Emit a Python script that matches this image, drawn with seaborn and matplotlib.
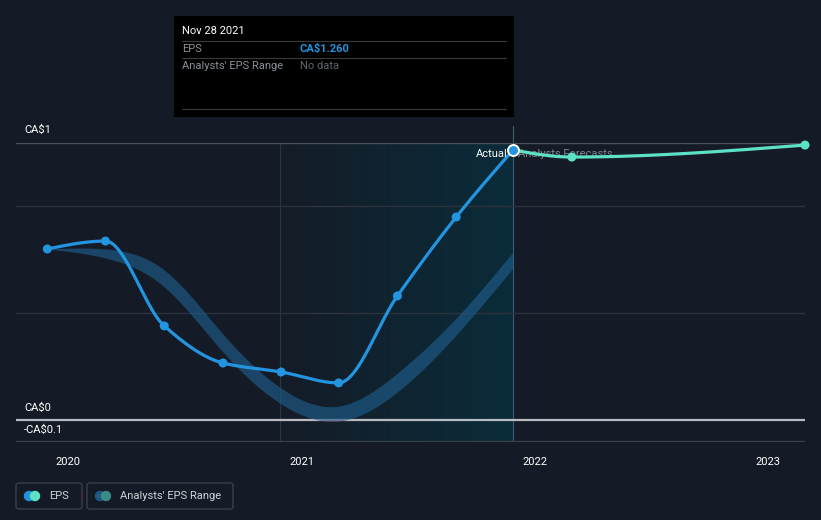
import numpy as np
import pandas as pd
import matplotlib
matplotlib.use("Agg")
import matplotlib.pyplot as plt
import matplotlib.dates as mdates
from matplotlib.patches import FancyBboxPatch, Rectangle, Ellipse
import seaborn as sns

# ---------------- data ----------------
eps_dates = ["2019-11-30", "2020-02-29", "2020-05-31", "2020-08-31", "2020-11-30",
             "2021-02-28", "2021-05-31", "2021-08-31", "2021-11-28"]
eps_values = [0.798, 0.835, 0.439, 0.266, 0.224, 0.173, 0.579, 0.947, 1.260]

fc_dates = ["2021-11-28", "2022-02-28", "2023-02-28"]
fc_values = [1.260, 1.227, 1.283]

range_dates = eps_dates
range_upper = [0.798, 0.798, 0.700, 0.401, 0.149, 0.065, 0.219, 0.476, 0.784]
range_lower = [0.798, 0.756, 0.621, 0.317, 0.075, -0.005, 0.131, 0.397, 0.709]

x_ticks = ["2020-01-01", "2021-01-01", "2022-01-01", "2023-01-01"]
x_tick_labels = ["2020", "2021", "2022", "2023"]
grid_values = [0.5, 1.0]

# ---------------- curve helpers (rendering only) ----------------
def monotone(x, y, n=400):
    x = np.asarray(x, float); y = np.asarray(y, float)
    h = np.diff(x); d = np.diff(y) / h
    m = np.zeros_like(y)
    for i in range(1, len(y) - 1):
        if d[i - 1] * d[i] <= 0:
            m[i] = 0
        else:
            w1 = 2 * h[i] + h[i - 1]; w2 = h[i] + 2 * h[i - 1]
            m[i] = (w1 + w2) / (w1 / d[i - 1] + w2 / d[i])
    if len(y) > 2:
        m[0] = (3 * d[0] - m[1]) / 2
        m[-1] = (3 * d[-1] - m[-2]) / 2
    else:
        m[0] = m[-1] = d[0]
    xs = np.linspace(x[0], x[-1], n)
    idx = np.clip(np.searchsorted(x, xs) - 1, 0, len(x) - 2)
    t = (xs - x[idx]) / h[idx]
    h00 = 2 * t**3 - 3 * t**2 + 1; h10 = t**3 - 2 * t**2 + t
    h01 = -2 * t**3 + 3 * t**2; h11 = t**3 - t**2
    ys = h00 * y[idx] + h10 * h[idx] * m[idx] + h01 * y[idx + 1] + h11 * h[idx] * m[idx + 1]
    return xs, ys


def natural(x, y, n=400):
    x = np.asarray(x, float); y = np.asarray(y, float)
    k = len(x); h = np.diff(x)
    A = np.zeros((k, k)); b = np.zeros(k)
    A[0, 0] = A[-1, -1] = 1
    for i in range(1, k - 1):
        A[i, i - 1] = h[i - 1]; A[i, i] = 2 * (h[i - 1] + h[i]); A[i, i + 1] = h[i]
        b[i] = 3 * ((y[i + 1] - y[i]) / h[i] - (y[i] - y[i - 1]) / h[i - 1])
    c = np.linalg.solve(A, b)
    bb = (y[1:] - y[:-1]) / h - h * (2 * c[:-1] + c[1:]) / 3
    dd = (c[1:] - c[:-1]) / (3 * h)
    xs = np.linspace(x[0], x[-1], n)
    idx = np.clip(np.searchsorted(x, xs) - 1, 0, k - 2)
    dx = xs - x[idx]
    ys = y[idx] + bb[idx] * dx + c[idx] * dx**2 + dd[idx] * dx**3
    return xs, ys


BG = "#151b26"
BLUE = "#2394df"
AQUA = "#5ce0c6"
BAND = "#1f5f8f"

sns.set_theme(style="dark", rc={"axes.facecolor": BG, "figure.facecolor": BG})
plt.rcParams["font.family"] = ["Roboto", "DejaVu Sans"]

fig = plt.figure(figsize=(8.21, 5.20), dpi=100)
W, H = 821, 520
ax = fig.add_axes([16 / W, (H - 442) / H, (805 - 16) / W, (442 - 143) / H])
ax.set_facecolor(BG)

xmin = mdates.date2num(pd.Timestamp("2019-10-12"))
xmax = mdates.date2num(pd.Timestamp("2023-02-28"))
ymin, ymax = -0.1027, 1.2926
ax.set_xlim(xmin, xmax)
ax.set_ylim(ymin, ymax)

ed = mdates.date2num(pd.to_datetime(eps_dates))
fd = mdates.date2num(pd.to_datetime(fc_dates))
rd = mdates.date2num(pd.to_datetime(range_dates))

# highlight (past year) gradient
x0 = mdates.date2num(pd.Timestamp("2020-11-28"))
x1 = mdates.date2num(pd.Timestamp("2021-11-28"))
grad = np.zeros((2, 256, 4))
grad[..., :3] = np.array([0.035, 0.19, 0.25])
grad[..., 3] = np.linspace(0.05, 0.8, 256)[None, :]
ax.imshow(grad, extent=[x0, x1, ymin, ymax], aspect="auto", zorder=0.5, interpolation="bilinear")
ax.axvline(x0, color="#1d3a48", lw=0.8, zorder=0.6)
ax.axvline(x1, color="#3a5f70", lw=0.8, zorder=0.6)
ax.plot([x1, x1], [ymax, ymax + 0.08], color="#3a5f70", lw=0.8, clip_on=False, zorder=0.6)

# gridlines
for g in grid_values:
    ax.axhline(g, color="#2c323d", lw=1, zorder=1)
ax.axhline(ymax, color="#4a505a", lw=1, zorder=1)
ax.axhline(0, color="#b8bcc2", lw=1.6, zorder=1.2)
ax.axhline(ymin, color="#3c424c", lw=1.6, zorder=1.2)

# analysts range band
bx, bu = natural(rd, range_upper)
_, bl = natural(rd, range_lower)
ax.fill_between(bx, bl, bu, color=BAND, alpha=0.62, lw=0, zorder=2)
ax.fill_between(bx, np.minimum(bl, 0), 0, where=bl < 0, color="#b03040", alpha=0.35, lw=0, zorder=2)

# EPS line
lx, ly = monotone(ed, eps_values)
sns.lineplot(x=lx, y=ly, ax=ax, color=BLUE, lw=2.3, zorder=3, estimator=None, sort=False)
sns.scatterplot(x=ed[:-1], y=eps_values[:-1], ax=ax, color=BLUE, s=42, edgecolor="none", zorder=4)

# forecast line
fx, fy = monotone(fd, fc_values)
sns.lineplot(x=fx, y=fy, ax=ax, color=AQUA, lw=2.3, zorder=3, estimator=None, sort=False)
sns.scatterplot(x=fd[1:], y=fc_values[1:], ax=ax, color=AQUA, s=42, edgecolor="none", zorder=4, clip_on=False)
ax.scatter([ed[-1]], [eps_values[-1]], s=62, color=BLUE, edgecolor="white", linewidth=1.4, zorder=5)

ax.text(ed[-1] - 8, 1.242, "Actual", color="white", fontsize=8, ha="right", va="center", zorder=6)
ax.text(ed[-1] + 8, 1.242, "Analysts Forecasts", color="#8a8f98", fontsize=8, ha="left", va="center",
        zorder=2.5, alpha=0.9)

# axes styling
for s in ax.spines.values():
    s.set_visible(False)
ax.set_yticks([])
xt = mdates.date2num(pd.to_datetime(x_ticks))
ax.set_xticks(xt)
ax.set_xticklabels(x_tick_labels, color="white", fontsize=8)
ax.tick_params(axis="x", length=4, color="#555b65", pad=7, width=0.8, direction="out")
ax.set_xlabel(""); ax.set_ylabel("")
ax.grid(False)

# y labels
fig.text(24 / W, 1 - 130 / H, "CA$1", color="white", fontsize=8, va="center", ha="left")
fig.text(24 / W, 1 - 408 / H, "CA$0", color="white", fontsize=8, va="center", ha="left")
fig.text(24 / W, 1 - 430 / H, "-CA$0.1", color="white", fontsize=8, va="center", ha="left")

# tooltip
tip = Rectangle((174 / W, 1 - 117 / H), (514 - 174) / W, (117 - 16) / H, transform=fig.transFigure,
                facecolor="black", edgecolor="none", zorder=10)
fig.add_artist(tip)
fig.text(182 / W, 1 - 31 / H, "Nov 28 2021", color="white", fontsize=8, va="center", zorder=11)
for yy in [41, 58, 109]:
    fig.add_artist(plt.Line2D([182 / W, 506 / W], [1 - yy / H, 1 - yy / H], transform=fig.transFigure,
                              color="#3a3a3a", lw=0.8, zorder=11))
fig.text(182 / W, 1 - 49 / H, "EPS", color="#8a8f98", fontsize=8, va="center", zorder=11)
fig.text(300 / W, 1 - 49 / H, "CA$1.260", color=BLUE, fontsize=8, va="center", fontweight="bold", zorder=11)
fig.text(182 / W, 1 - 66 / H, "Analysts' EPS Range", color="#8a8f98", fontsize=8, va="center", zorder=11)
fig.text(300 / W, 1 - 66 / H, "No data", color="#60656e", fontsize=8, va="center", zorder=11)


# legend
def legend_box(x0p, x1p, label, c1, c2):
    box = FancyBboxPatch((x0p / W, 1 - 509 / H), (x1p - x0p) / W, 26 / H, transform=fig.transFigure,
                         boxstyle="round,pad=0,rounding_size=0.004", facecolor=BG, edgecolor="#3a404a", lw=1)
    fig.add_artist(box)
    cy = 1 - 496 / H
    r = 4.5
    fig.add_artist(Ellipse(((x0p + 13) / W, cy), 2 * r / W, 2 * r / H, transform=fig.transFigure, color=c1))
    fig.add_artist(Ellipse(((x0p + 19) / W, cy), 2 * r / W, 2 * r / H, transform=fig.transFigure, color=c2))
    fig.text((x0p + 33) / W, cy, label, color="#d0d3d8", fontsize=8, va="center")


legend_box(16, 82, "EPS", BLUE, AQUA)
legend_box(87, 233, "Analysts' EPS Range", "#1f5a85", "#3d8a8a")

fig.savefig("out.png", dpi=100, facecolor=BG)
